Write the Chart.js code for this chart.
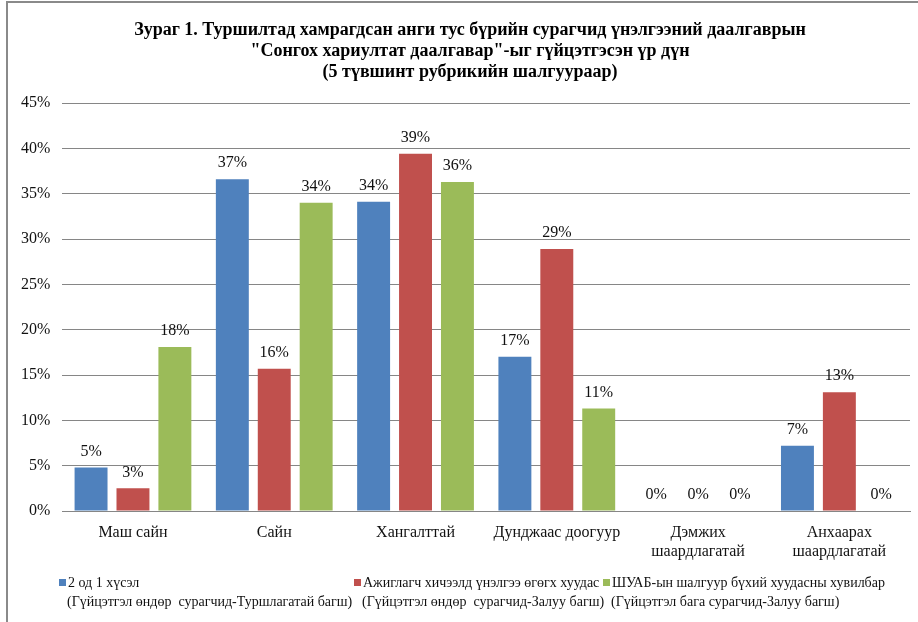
<!DOCTYPE html>
<html>
<head>
<meta charset="utf-8">
<script src="https://cdn.jsdelivr.net/npm/chart.js@4.4.0/dist/chart.umd.min.js"></script>
<style>
  html, body { margin: 0; padding: 0; background: #fff; overflow: hidden; }
  canvas { display: block; }
</style>
</head>
<body>
<canvas id="chart" width="918" height="622"></canvas>
<script>
"use strict";

var categories = ["Маш сайн", "Сайн", "Хангалттай", "Дунджаас доогуур",
    ["Дэмжих", "шаардлагатай"], ["Анхаарах", "шаардлагатай"]];

var titleLines = [
    "Зураг 1. Туршилтад хамрагдсан анги тус бүрийн сурагчид үнэлгээний даалгаврын",
    "\"Сонгох хариултат даалгавар\"-ыг гүйцэтгэсэн үр дүн",
    "(5 түвшинт рубрикийн шалгуураар)"
];

var seriesNames = [
    ["2 од 1 хүсэл", "(Гүйцэтгэл өндөр  сурагчид-Туршлагатай багш)"],
    ["Ажиглагч хичээлд үнэлгээ өгөгх хуудас", "(Гүйцэтгэл өндөр  сурагчид-Залуу багш)"],
    ["ШУАБ-ын шалгуур бүхий хуудасны хувилбар", "(Гүйцэтгэл бага сурагчид-Залуу багш)"]
];

var seriesColors = ["#4F81BD", "#C0504D", "#9BBB59"];

var values1 = [4.8, 36.6, 34.1, 17.0, 0, 7.2];
var values2 = [2.5, 15.7, 39.4, 28.9, 0, 13.1];
var values3 = [18.1, 34.0, 36.3, 11.3, 0, 0];

var yTicks = [0, 5, 10, 15, 20, 25, 30, 35, 40, 45];

var serif = "'Liberation Serif', 'Times New Roman', serif";

function makeDataset(i, values) {
    return {
        label: seriesNames[i][0],
        data: values,
        backgroundColor: seriesColors[i],
        borderWidth: 0,
        categoryPercentage: 0.89,
        barPercentage: 0.786
    };
}

// value labels above bars
var valueLabels = {
    id: "valueLabels",
    afterDatasetsDraw: function(chart) {
        var ctx = chart.ctx;
        ctx.save();
        ctx.font = "16px " + serif;
        ctx.fillStyle = "#111";
        ctx.textAlign = "center";
        ctx.textBaseline = "middle";
        chart.data.datasets.forEach(function(ds, i) {
            chart.getDatasetMeta(i).data.forEach(function(bar, j) {
                ctx.fillText(Math.round(ds.data[j]) + "%", bar.x, bar.y - 16);
            });
        });
        ctx.restore();
    }
};

// frame, title and two-line legend
var decorations = {
    id: "decorations",
    beforeDraw: function(chart) {
        var ctx = chart.ctx;
        ctx.save();
        ctx.fillStyle = "#8a8a8a";
        ctx.fillRect(6, 1, 2, 640);
        ctx.fillRect(6, 1, 920, 2);
        ctx.restore();
    },
    afterDraw: function(chart) {
        var ctx = chart.ctx;
        ctx.save();
        ctx.fillStyle = "#000";
        ctx.textAlign = "center";
        ctx.textBaseline = "middle";
        ctx.font = "bold 18px " + serif;
        titleLines.forEach(function(t, i) {
            ctx.fillText(t, 470, 30 + i * 21);
        });

        var itemX = [59, 354, 603];
        ctx.font = "14px " + serif;
        ctx.textAlign = "left";
        seriesNames.forEach(function(lines, i) {
            ctx.fillStyle = seriesColors[i];
            ctx.fillRect(itemX[i], 579, 7, 7);
            ctx.fillStyle = "#111";
            ctx.fillText(lines[0], itemX[i] + 9, 583);
            ctx.fillText(lines[1], itemX[i] + 8, 602);
        });
        ctx.restore();
    }
};

new Chart(document.getElementById("chart"), {
    type: "bar",
    data: {
        labels: categories,
        datasets: [
            makeDataset(0, values1),
            makeDataset(1, values2),
            makeDataset(2, values3)
        ]
    },
    options: {
        responsive: false,
        animation: false,
        layout: { padding: { top: 103, left: 9, right: 8, bottom: 61 } },
        plugins: {
            legend: { display: false },
            title: { display: false },
            tooltip: { enabled: false }
        },
        scales: {
            x: {
                grid: { display: false, drawTicks: false },
                border: { color: "#868686", width: 1 },
                ticks: {
                    color: "#111",
                    padding: 12,
                    maxRotation: 0,
                    autoSkip: false,
                    font: { family: serif, size: 16, lineHeight: 1.2 }
                },
                afterFit: function(scale) { scale.height = 50; }
            },
            y: {
                min: 0,
                max: 45,
                afterBuildTicks: function(scale) {
                    scale.ticks = yTicks.map(function(v) { return { value: v }; });
                },
                grid: { color: "#868686", lineWidth: 1, drawTicks: false },
                border: { display: false },
                ticks: {
                    color: "#111",
                    padding: 12,
                    font: { family: serif, size: 16 },
                    callback: function(v) { return v + "%"; }
                }
            }
        }
    },
    plugins: [valueLabels, decorations]
});
</script>
</body>
</html>
